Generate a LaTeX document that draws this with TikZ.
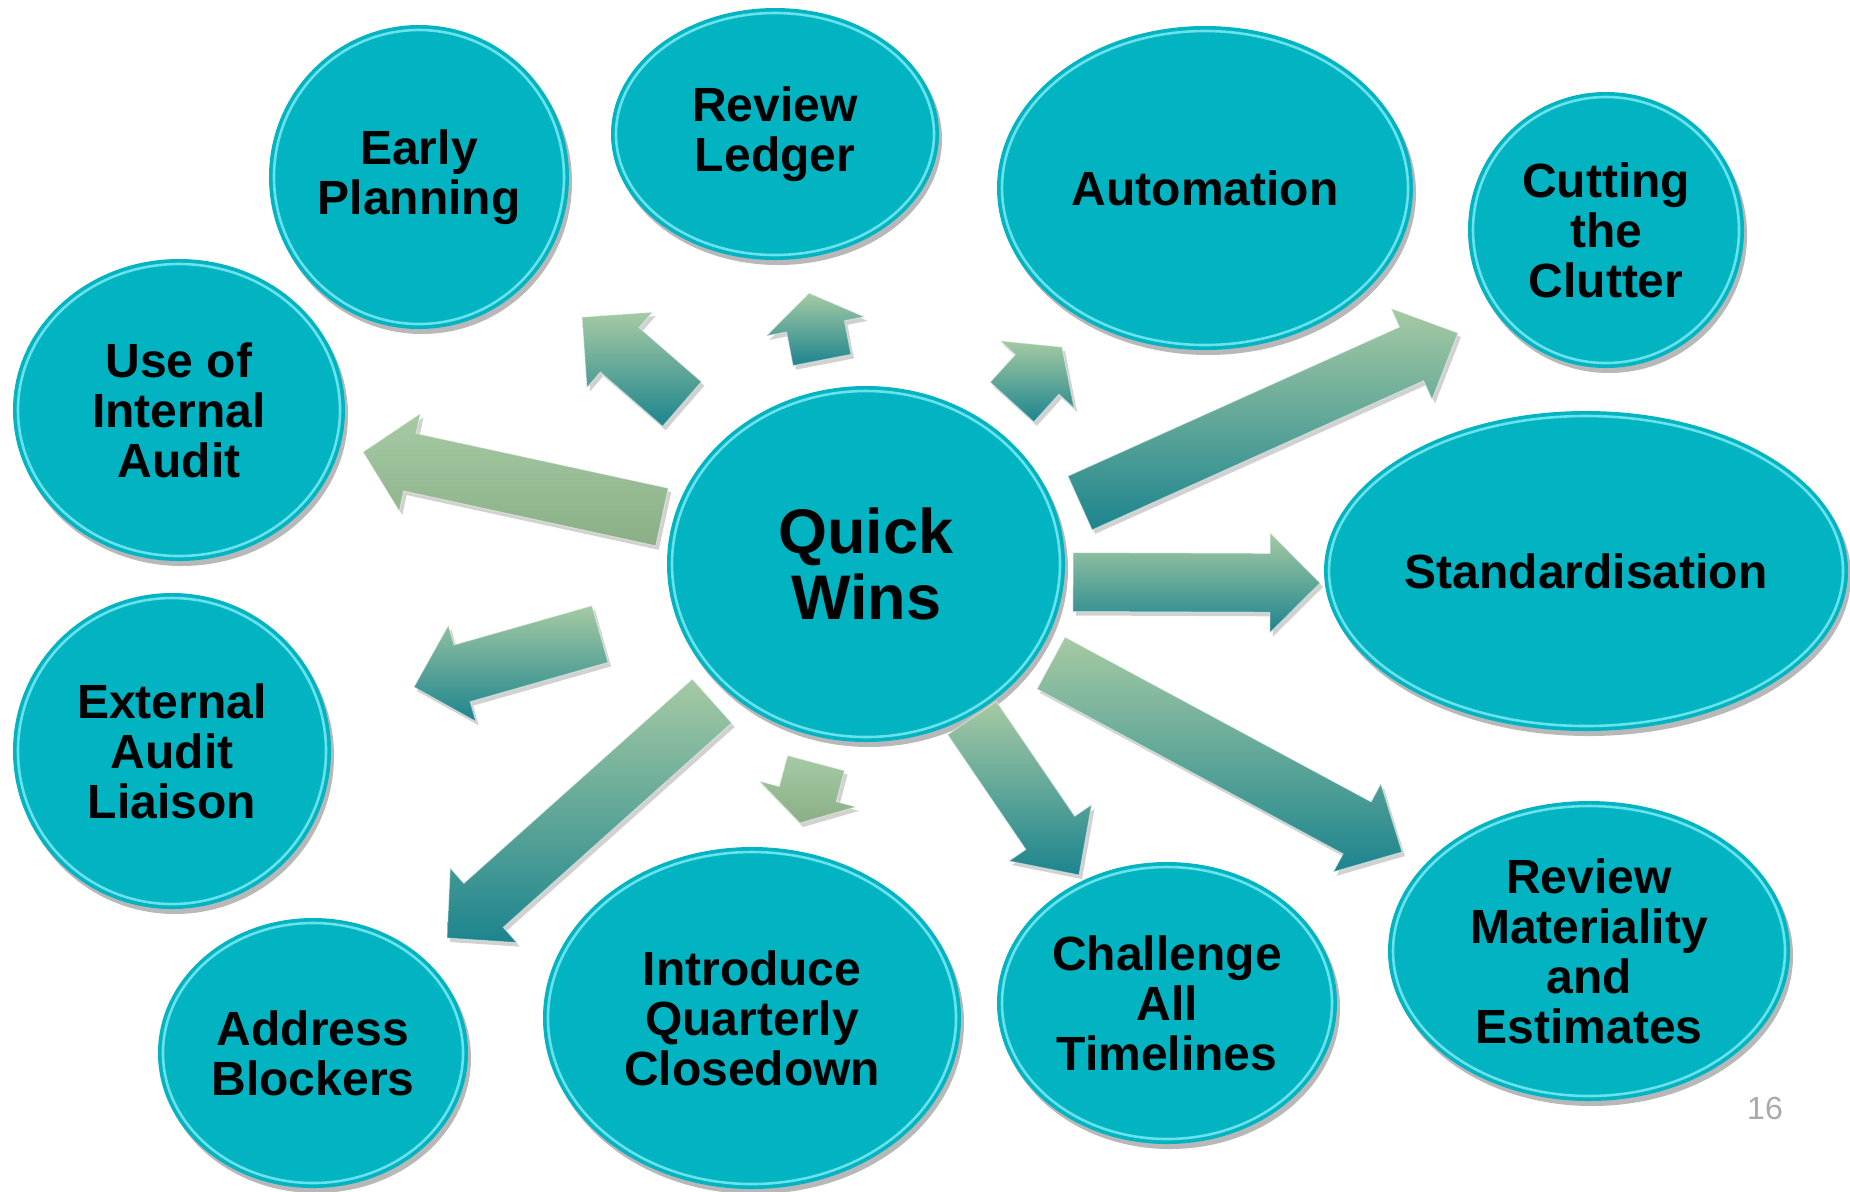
\documentclass[tikz,border=0pt]{standalone}
\usepackage{fontspec}
\setmainfont{Liberation Sans}
\usetikzlibrary{shapes.geometric,calc,shadows}
\definecolor{bub}{RGB}{2,179,193}
\definecolor{rimc}{RGB}{130,238,246}
\definecolor{agreen}{RGB}{166,202,163}
\definecolor{ateal}{RGB}{28,132,142}
\definecolor{dgreen}{RGB}{138,174,134}
\definecolor{pnum}{RGB}{170,170,170}
\tikzset{
  bubble/.style={ellipse, inner sep=0pt, fill=bub, align=center,
    font=\bfseries\fontsize{24}{25}\selectfont,
    drop shadow={shadow xshift=1.5pt, shadow yshift=-2.5pt, opacity=0.28, fill=black}},
  bigtext/.style={font=\bfseries\fontsize{31.5}{33}\selectfont},
  rim/.style={draw=rimc, line width=1.3pt, opacity=0.8},
  arr/.style={top color=agreen, bottom color=ateal, draw=white, draw opacity=0.45, line width=0.5pt,
    drop shadow={shadow xshift=1.5pt, shadow yshift=-2pt, opacity=0.18, fill=black}},
  arrg/.style={arr, bottom color=dgreen},
  pagenum/.style={text=pnum, font=\fontsize{16}{18}\selectfont}
}
\newcommand\bub[7][]{%
  \node[bubble, #1, minimum width=#5pt, minimum height=#6pt] (#2) at (#3,#4) {#7};
  \draw[rim] (#2.center) ellipse [x radius={#5*0.5pt-2.5pt}, y radius={#6*0.5pt-2.5pt}];
}
% #1 prefix, #2 tail, #3 tip, #4 head length, #5 style
\newcommand\qarr[5]{%
  \coordinate (#1h) at ($(#3)!#4!(#2)$);
  \path[#5] ($(#2)!14.75pt!90:(#3)$) -- ($(#1h)!14.75pt!90:(#3)$) -- ($(#1h)!25pt!90:(#3)$)
    -- (#3) -- ($(#1h)!25pt!-90:(#3)$) -- ($(#1h)!14.75pt!-90:(#3)$) -- ($(#2)!14.75pt!-90:(#3)$) -- cycle;
}
\begin{document}
\begin{tikzpicture}[x=0.5pt, y=-0.5pt]
\fill[white] (0,0) rectangle (1850,1191);
\useasboundingbox (0,0) rectangle (1850,1191);

\bub{ep}{419}{177}{150}{152}{Early\\Planning}
\bub{rl}{775}{134}{164}{126}{Review\\Ledger}
\bub{au}{1205}{188}{208}{162}{Automation}
\bub{cc}{1606}{230}{138}{138}{Cutting\\the\\Clutter}
\bub{ui}{179}{410}{166}{151}{Use of\\Internal\\Audit}
\bub{st}{1586}{571}{262}{160}{Standardisation}
\bub[bigtext]{qw}{866}{564}{199}{178}{Quick\\Wins}
\bub{ea}{172}{751}{159}{158}{External\\Audit\\Liaison}
\bub{ab}{313}{1053}{155}{135}{Address\\Blockers}
\bub{iq}{752}{1018}{209}{171}{Introduce\\Quarterly\\Closedown}
\bub{ca}{1167}{1003}{170}{141}{Challenge\\All\\Timelines}
\bub{rm}{1589}{951}{201}{150}{Review\\Materiality\\and\\Estimates}

% arrow tails and tips
\coordinate (aT) at (662,517);  \coordinate (aP) at (363,452);
\coordinate (bT) at (682,404);  \coordinate (bP) at (582,317);
\coordinate (cT) at (822,360);  \coordinate (cP) at (809,293);
\coordinate (dT) at (1012,402); \coordinate (dP) at (1062,347);
\coordinate (eT) at (1080,503); \coordinate (eP) at (1458,333);
\coordinate (fT) at (1073,582); \coordinate (fP) at (1320,583);
\coordinate (gT) at (1051,663); \coordinate (gP) at (1402,852);
\coordinate (hT) at (972,718);  \coordinate (hP) at (1079,875);
\coordinate (iT) at (816,763);  \coordinate (iP) at (800,823);
\coordinate (jT) at (712,701);  \coordinate (jP) at (447,938);
\coordinate (kT) at (600,634);  \coordinate (kP) at (414,687);

\qarr{a}{aT}{aP}{24pt}{arrg}
\qarr{b}{bT}{bP}{25pt}{arr}
\qarr{c}{cT}{cP}{17pt}{arr}
\qarr{d}{dT}{dP}{18.5pt}{arr}
\qarr{e}{eT}{eP}{25.5pt}{arr}
\qarr{f}{fT}{fP}{25pt}{arr}
\qarr{g}{gT}{gP}{25.5pt}{arr}
\qarr{h}{hT}{hP}{25.5pt}{arr}
\qarr{i}{iT}{iP}{15pt}{arrg}
\qarr{j}{jT}{jP}{24.5pt}{arr}
\qarr{k}{kT}{kP}{25pt}{arr}

\node[pagenum] (pg) at (1765,1108) {16};
\end{tikzpicture}
\end{document}
